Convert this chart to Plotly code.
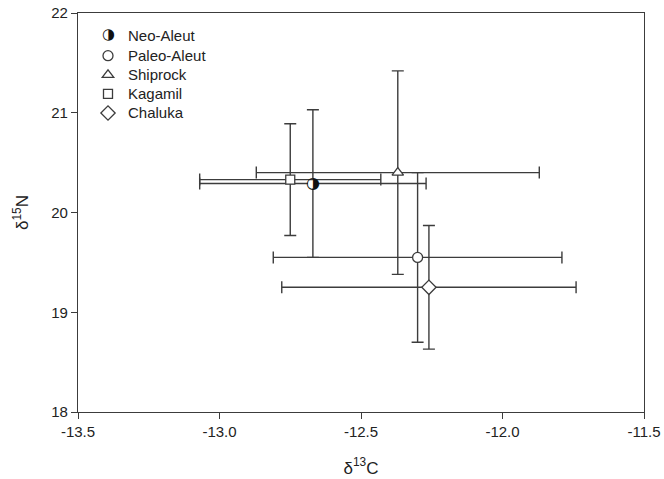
import plotly.graph_objects as go

# ---- data ----
groups = ["Neo-Aleut", "Paleo-Aleut", "Shiprock", "Kagamil", "Chaluka"]
d13c = [-12.67, -12.30, -12.37, -12.75, -12.26]
d13c_err = [0.40, 0.51, 0.50, 0.32, 0.52]
d15n = [20.29, 19.55, 20.40, 20.33, 19.25]
d15n_err = [0.74, 0.85, 1.02, 0.56, 0.62]
x_tickvals = [-13.5, -13.0, -12.5, -12.0, -11.5]
x_ticktext = ["-13.5", "-13.0", "-12.5", "-12.0", "-11.5"]
y_tickvals = [18, 19, 20, 21, 22]
y_ticktext = ["18", "19", "20", "21", "22"]

symbols = {"Neo-Aleut": "circle", "Paleo-Aleut": "circle", "Shiprock": "triangle-up",
           "Kagamil": "square", "Chaluka": "diamond"}
sizes = {"Neo-Aleut": 10, "Paleo-Aleut": 10, "Shiprock": 10, "Kagamil": 9, "Chaluka": 11}

LINE = "#3c3c3c"
TEXT = "#222222"
FONT = "Liberation Sans, Arial, sans-serif"

W, H = 664, 479
ML, MR, MT, MB = 78, 20, 13, 67
PW, PH = W - ML - MR, H - MT - MB

def fx(p):  # px -> paper x
    return (p - ML) / PW

def fy(p):  # px -> paper y
    return 1 - (p - MT) / PH

fig = go.Figure()
for i, g in enumerate(groups):
    neo = g == "Neo-Aleut"
    fig.add_trace(go.Scatter(
        x=[d13c[i]], y=[d15n[i]], mode="markers",
        name='<span style="font-size:15px">%s</span>' % g,
        marker=dict(symbol=symbols[g], size=sizes[g], color="white",
                    line=dict(color=LINE, width=0 if neo else 1.3)),
        error_x=dict(type="data", array=[d13c_err[i]], color=LINE, thickness=1.4, width=6),
        error_y=dict(type="data", array=[d15n_err[i]], color=LINE, thickness=1.4, width=6),
    ))

# half-filled circle glyph for Neo-Aleut
i0 = groups.index("Neo-Aleut")
fig.add_trace(go.Scatter(
    x=[d13c[i0]], y=[d15n[i0]], mode="text", text=["◑"],
    textfont=dict(family="DejaVu Sans", size=16, color="#111"),
    textposition="middle center", showlegend=False, hoverinfo="skip",
))

LEG_SYM_X, LEG_ROW1_Y = 108, 34

fig.update_layout(
    width=W, height=H,
    margin=dict(l=ML, r=MR, t=MT, b=MB, autoexpand=False),
    paper_bgcolor="white", plot_bgcolor="white",
    font=dict(family=FONT, size=15, color=TEXT),
    legend=dict(x=fx(LEG_SYM_X - 20), y=fy(LEG_ROW1_Y - 12), xanchor="left", yanchor="top",
                font=dict(size=12.4, color=TEXT, family=FONT),
                bgcolor="rgba(0,0,0,0)", borderwidth=0),
    annotations=[dict(text="◑", x=fx(LEG_SYM_X), y=fy(LEG_ROW1_Y), xref="paper", yref="paper",
                      xanchor="center", yanchor="middle", showarrow=False,
                      font=dict(family="DejaVu Sans", size=15, color="#111"))],
    xaxis=dict(range=[-13.5, -11.5], tickvals=x_tickvals, ticktext=x_ticktext,
               automargin=False, ticklabeloverflow="allow",
               showline=True, mirror=True, linecolor=LINE, linewidth=1.3,
               ticks="outside", ticklen=6, tickcolor=LINE, tickwidth=1.3,
               showgrid=False, zeroline=False,
               tickfont=dict(size=15, color=TEXT),
               title=dict(text="δ<sup>13</sup>C", font=dict(size=17, color=TEXT), standoff=22)),
    yaxis=dict(range=[18, 22], tickvals=y_tickvals, ticktext=y_ticktext,
               automargin=False, ticklabeloverflow="allow",
               showline=True, mirror=True, linecolor=LINE, linewidth=1.3,
               ticks="outside", ticklen=6, tickcolor=LINE, tickwidth=1.3,
               showgrid=False, zeroline=False,
               tickfont=dict(size=15, color=TEXT),
               title=dict(text="δ<sup>15</sup>N", font=dict(size=17, color=TEXT), standoff=18)),
)

fig.write_html("out.html", config={"displayModeBar": False},
               post_script="document.body.style.margin='0';document.body.style.overflow='hidden';")
